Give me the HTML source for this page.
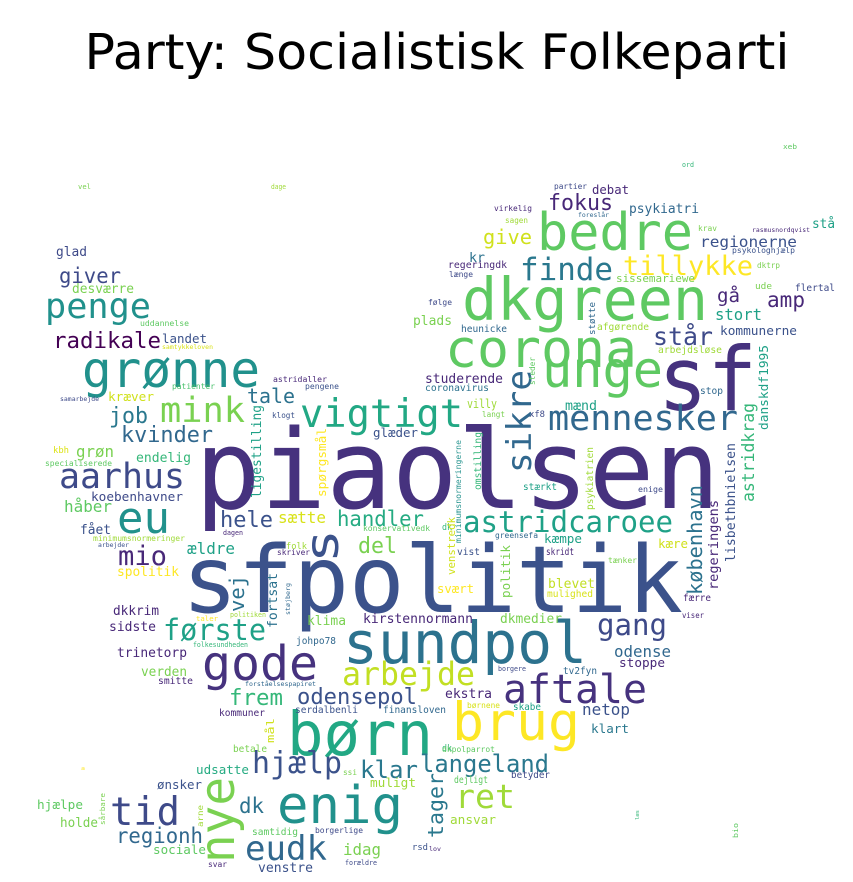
<!DOCTYPE html>
<html><head><meta charset="utf-8"><style>
html,body{margin:0;padding:0;background:#fff;}
svg{display:block;}
text{font-family:"DejaVu Sans Mono","Liberation Mono",monospace;}
</style></head><body>
<svg id="cloud" width="853" height="882" viewBox="0 0 853 882" xmlns="http://www.w3.org/2000/svg">
<rect width="853" height="882" fill="#fff"/>
<text x="437" y="69" text-anchor="middle" font-size="49" textLength="705" lengthAdjust="spacingAndGlyphs" fill="#000" style="font-family:'DejaVu Sans','Liberation Sans',sans-serif">Party: Socialistisk Folkeparti</text>
<g id="words"></g>
</svg>
<script>
var dp='#482878',pu='#46327e',ib='#3e4a89',bl='#3b528b',sb='#31688e',tb='#2c728e',te='#21918c',tg='#1fa187',gr='#35b779',lg='#5ec962',yg='#7ad151',lm='#a0da39',ly='#d0e11c',ye='#fde725';
var words=[
["piaolsen",195,508,110,525,pu,0],
["sfpolitik",182,612,93,501,bl,0],
["sf",658,410,88,99,pu,0],
["dkgreen",462,320,59,246,lg,0],
["corona",445,367,53,192,lg,0],
["unge",542,387,50,121,lg,0],
["bedre",537,250,52,156,lg,0],
["sundpol",343,663,58,244,tb,0],
["børn",287,755,61,146,'#22a884',0],
["brug",452,740,53,128,ye,0],
["enig",277,823,52,126,te,0],
["grønne",82,387,50,178,te,0],
["gode",202,680,48,116,pu,0],
["aftale",503,703,40,144,pu,0],
["vigtigt",300,427,39,163,'#22a884',0],
["mennesker",548,430,35,190,sb,0],
["penge",45,318,35,106,te,0],
["aarhus",59,488,35,126,ib,0],
["mink",160,422,35,85,yg,0],
["eu",117,533,44,53,te,0],
["tid",110,825,39,70,ib,0],
["eudk",245,860,34,82,sb,0],
["ret",455,808,33,60,lm,0],
["arbejde",342,685,32,133,'#c2df23',0],
["finde",520,280,31,93,'#2a788e',0],
["hjælp",252,773,30,90,bl,0],
["astridcaroee",463,532,29,210,tg,0],
["gang",597,635,29,70,ib,0],
["første",163,640,29,103,tg,0],
["tillykke",623,275,27,130,ye,0],
["mio",118,565,27,49,dp,0],
["står",653,345,25,60,ib,0],
["klar",360,778,24,58,'#2a788e',0],
["langeland",420,772,24,129,'#2a788e',0],
["radikale",53,348,22.5,108,'#440154',0],
["kvinder",121,442,22,92,sb,0],
["odensepol",297,704,22,120,bl,0],
["frem",229,705,22,54,gr,0],
["hele",220,527,22,53,bl,0],
["fokus",548,210,22,65,dp,0],
["job",109,423,22,39,'#2a788e',0],
["del",358,553,22,39,yg,0],
["handler",337,526,21,87,'#25ab82',0],
["regionh",116,843,21,87,sb,0],
["dk",239,813,21,25,tb,0],
["amp",767,307,21,38,dp,0],
["giver",59,283,21,62,ib,0],
["tale",247,403,20,48,tb,0],
["give",483,244,20,49,ly,0],
["gå",717,302,19,23,dp,0],
["håber",64,512,16,48,lg,0],
["sætte",278,523,16,48,'#d8e219',0],
["ældre",187,554,16,48,tg,0],
["grøn",76,457,16,38,yg,0],
["idag",343,855,16,38,yg,0],
["netop",582,715,16,48,bl,0],
["odense",614,657,16,57,sb,0],
["stort",715,320,16,47,tg,0],
["regionerne",700,247,15,97,bl,0],
["glad",56,256,13,31,ib,0],
["desværre",72,293,13,62,yg,0],
["landet",162,343,12.5,45,bl,0],
["kræver",108,401,12.7,46,ly,0],
["glæder",373,437,12.5,45,bl,0],
["studerende",425,383,13,78,dp,0],
["endelig",136,462,13,55,gr,0],
["koebenhavner",91,501,12.8,92,ib,0],
["fået",80,534,13,31,bl,0],
["spolitik",117,576,13,62,ye,0],
["dkkrim",113,615,13,46,dp,0],
["sidste",109,631,13,47,dp,0],
["klima",307,625,13,39,yg,0],
["kirstennormann",363,623,13,110,dp,0],
["trinetorp",117,657,13,70,dp,0],
["verden",141,676,13,46,yg,0],
["ekstra",445,698,13,47,dp,0],
["udsatte",196,774,12.6,53,'#25ab82',0],
["ønsker",157,789,12.5,45,bl,0],
["muligt",370,787,12.7,46,lm,0],
["hjælpe",37,809,12.8,46,lg,0],
["holde",60,827,13,38,yg,0],
["sociale",153,854,12.6,53,lg,0],
["venstre",258,872,13,55,bl,0],
["kæmpe",544,543,12.7,38,tg,0],
["kære",658,548,12.7,30,ly,0],
["svært",437,593,12.5,37,ye,0],
["blevet",548,588,13,47,'#c2df23',0],
["dkmedier",500,623,13,62,yg,0],
["stoppe",619,667,12.8,46,dp,0],
["klart",591,733,12.7,38,'#2a788e',0],
["ansvar",450,824,12.8,46,lm,0],
["debat",592,194,12.5,37,dp,0],
["psykiatri",629,213,13,70,sb,0],
["stå",812,228,13,23,tg,0],
["kr",469,262,13,16,tb,0],
["plads",413,325,13,39,yg,0],
["kommunerne",720,335,12.8,77,bl,0],
["mænd",565,410,13,32,tg,0],
["villy",467,408,12,30,lm,0],
["sissemariewe",616,282,11,79,yg,0],
["coronavirus",425,391,9.7,64,tb,0],
["regeringdk",448,268,9.8,59,dp,0],
["flertal",795,291,9.6,40,ib,0],
["heunicke",461,332,9.6,46,sb,0],
["afgørende",597,330,9.6,52,lm,0],
["arbejdsløse",658,353,9.6,64,lm,0],
["stop",700,394,9.6,23,sb,0],
["stærkt",523,490,9.6,34,tg,0],
["johpo78",296,644,10,40,sb,0],
["kommuner",219,716,9.6,46,dp,0],
["serdalbenli",295,713,9.5,63,bl,0],
["finansloven",383,713,9.5,63,sb,0],
["smitte",158,684,9.5,35,dp,0],
["betale",233,752,10,34,yg,0],
["samtidig",252,835,9.6,46,lg,0],
["vist",457,555,9.6,23,bl,0],
["skridt",546,555,9.3,28,dp,0],
["mulighed",547,597,9.6,46,'#d8e219',0],
["færre",683,601,9.3,28,dp,0],
["tv2fyn",563,674,9.5,34,sb,0],
["skabe",513,710,9.3,28,tg,0],
["betyder",511,778,9.3,39,ib,0],
["dejligt",454,783,9.3,34,lg,0],
["rsd",412,850,9,16,bl,0],
["kbh",53,453,9,16,'#dde318',0],
["folk",286,549,9,21,lm,0],
["ude",755,289,9,17,yg,0],
["xf8",529,417,9,16,ib,0],
["dk",442,751,9,10,gr,0],
["dk",442,530,9,10,gr,0],
["uddannelse",140,326,8,49,lg,0],
["astridaller",273,382,8,54,dp,0],
["patienter",172,389,8,43,'#4ac16d',0],
["pengene",305,389,8,34,bl,0],
["klogt",272,418,8,23,bl,0],
["specialiserede",45,466,8,67,lg,0],
["konservativedk",363,531,8,67,lg,0],
["minimumsnormeringer",93,541,8,92,lm,0],
["skriver",277,555,8,33,dp,0],
["ssi",343,775,8,14,yg,0],
["borgerlige",315,833,8,48,ib,0],
["svar",208,867,8,19,dp,0],
["greensefa",495,538,8,43,sb,0],
["tænker",608,563,8,29,yg,0],
["børnene",467,708,8,33,'#d8e219',0],
["dkpolparrot",442,752,8,53,lg,0],
["partier",554,189,8,33,ib,0],
["virkelig",494,211,8,38,dp,0],
["sagen",505,223,7.7,23,lm,0],
["krav",698,231,8,19,yg,0],
["psykologhjælp",732,253,8,63,bl,0],
["længe",449,277,8,24,ib,0],
["dktrp",757,268,8,23,yg,0],
["følge",428,305,8,24,ib,0],
["langt",482,417,8,23,yg,0],
["enige",638,492,8,25,ib,0],
["borgere",498,671,7,28,ib,0],
["viser",682,618,7.5,22,dp,0],
["forældre",345,865,7,32,ib,0],
["dagen",223,535,7,20,dp,0],
["taler",196,621,7,22,ye,0],
["politiken",230,617,7,36,lm,0],
["folkesundheden",193,647,7,55,gr,0],
["forståelsespapiret",245,686,6.2,71,sb,0],
["arbejder",98,547,6.5,31,bl,0],
["samtykkeloven",162,349,6.5,51,'#d8e219',0],
["samarbejde",60,401,6.5,39,ib,0],
["rasmusnordqvist",752,232,6.5,58,dp,0],
["foreslår",578,217,6.5,31,sb,0],
["lov",429,851,6,12,dp,0],
["vel",78,189,7,13,yg,0],
["dage",271,189,7,15,lm,0],
["xeb",783,149,7,14,lg,0],
["ord",682,167,7,12,gr,0],
["a",81,770,5,4,ye,0],
["s",338,563,46,34,bl,1],
["sikre",531,473,34,103,sb,1],
["nye",234,863,48,86,yg,1],
["tager",443,838,21.7,65,'#2a788e',1],
["vej",244,612,20,37,tb,1],
["københavn",702,595,20,110,tb,1],
["astridkrag",754,502,16.5,99,gr,1],
["regeringens",718,590,13.6,90,dp,1],
["lisbethbnielsen",735,562,13,119,bl,1],
["ligestilling",261,498,13,93,tg,1],
["spørgsmål",326,497,12.8,69,ye,1],
["fortsat",277,628,13,55,tb,1],
["danskdf1995",768,430,12.8,85,tg,1],
["politik",510,598,12.6,53,yg,1],
["venstredk",455,575,11,58,ly,1],
["mål",274,743,11,25,ly,1],
["omstilling",481,490,9.7,58,gr,1],
["psykiatrien",593,510,9.6,63,lm,1],
["minimumsnormeringerne",461,543,8,103,te,1],
["støtte",595,335,9,33,sb,1],
["steder",535,385,7.5,28,lg,1],
["støjberg",290,615,6.5,32,sb,1],
["sårbare",105,825,7,32,yg,1],
["arne",203,827,8,22,lm,1],
["bio",738,838,7,15,lg,1],
["læs",639,820,5,10,gr,1]
];
var g=document.getElementById('words');
var NS='http://www.w3.org/2000/svg';
for(var i=0;i<words.length;i++){
  var w=words[i];
  var t=document.createElementNS(NS,'text');
  t.textContent=w[0];
  t.setAttribute('font-size',w[3]);
  t.setAttribute('fill',w[5]);
  t.setAttribute('textLength',w[4]);
  t.setAttribute('lengthAdjust','spacingAndGlyphs');
  if(w[6]){
    t.setAttribute('x',0);t.setAttribute('y',0);
    t.setAttribute('transform','translate('+w[1]+','+w[2]+') rotate(-90)');
  }else{
    t.setAttribute('x',w[1]);t.setAttribute('y',w[2]);
  }
  
  
  g.appendChild(t);
}
</script>
</body></html>
